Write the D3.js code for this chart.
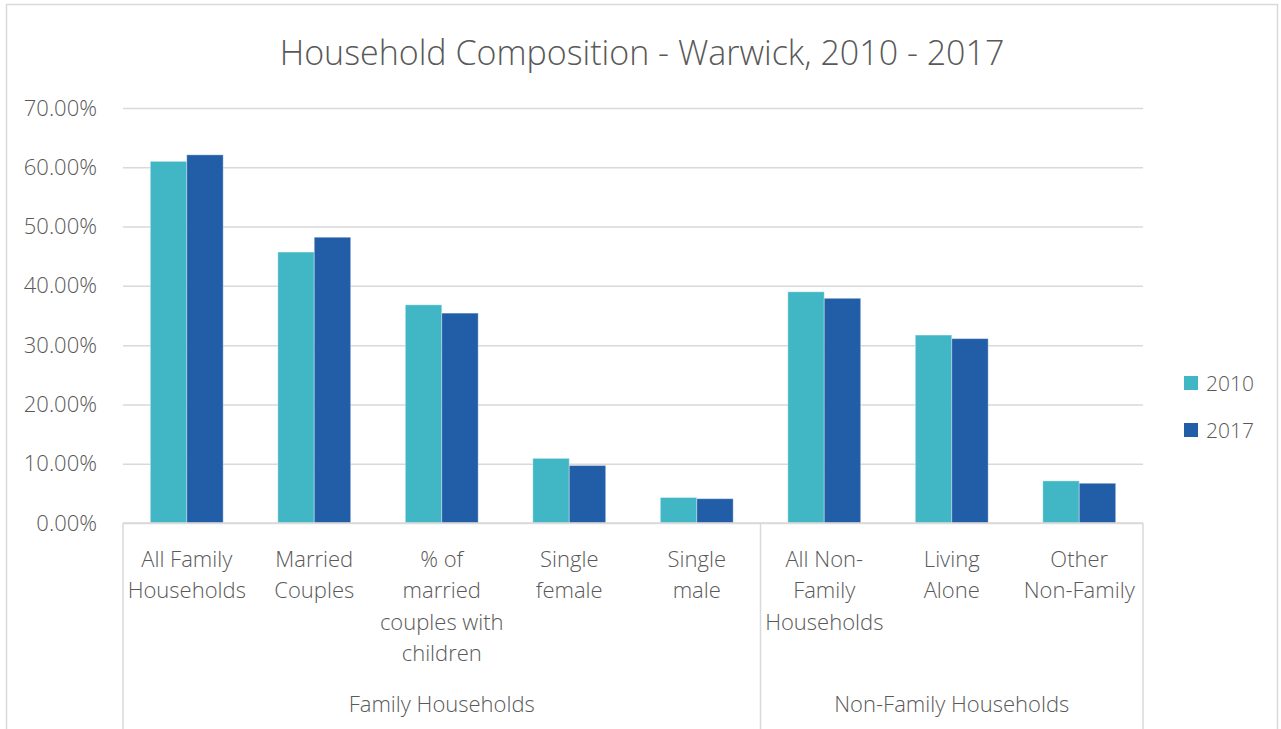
<!DOCTYPE html>
<html>
<head>
<meta charset="utf-8">
<script src="https://cdn.jsdelivr.net/npm/d3@7"></script>
<style>
  body { margin: 0; background: #fff; }
  svg { font-family: "Open Sans", "Segoe UI", sans-serif; font-weight: 300; }
  .tick text { fill: #595959; }
</style>
</head>
<body>
<svg></svg>
<script>
// chart data
let categories = ['All Family Households', 'Married Couples', '% of married couples with children',
  'Single female', 'Single male', 'All Non-Family Households', 'Living Alone', 'Other Non-Family'];
let categoryLines = [
  ['All Family', 'Households'],
  ['Married', 'Couples'],
  ['% of', 'married', 'couples with', 'children'],
  ['Single', 'female'],
  ['Single', 'male'],
  ['All Non-', 'Family', 'Households'],
  ['Living', 'Alone'],
  ['Other', 'Non-Family']
];
let groups = ['Family Households', 'Non-Family Households'];
let groupSizes = [5, 3];
let years = ['2010', '2017'];
let values2010 = [0.610, 0.457, 0.368, 0.109, 0.043, 0.390, 0.317, 0.071];
let values2017 = [0.621, 0.482, 0.354, 0.097, 0.041, 0.379, 0.311, 0.067];
let yTicks = [0, 0.1, 0.2, 0.3, 0.4, 0.5, 0.6, 0.7];

let width = 1281;
let height = 729;
let colors = ['#41b6c4', '#225ea8'];
let textColor = '#595959';
let gridColor = '#d9d9d9';

let plotLeft = 123, plotRight = 1143, plotTop = 108, plotBottom = 523;

let svg = d3.select('svg')
  .attr('width', width)
  .attr('height', height);

// chart border
svg.append('rect')
  .attr('x', 6.5).attr('y', 4.5)
  .attr('width', 1271).attr('height', 740)
  .attr('fill', 'none')
  .attr('stroke', gridColor)
  .attr('stroke-width', 1.5);

let x = d3.scaleBand()
  .domain(categories)
  .range([plotLeft, plotRight])
  .paddingInner(1.5 / 3.5)
  .paddingOuter(0.75 / 3.5);

let xInner = d3.scaleBand()
  .domain(years)
  .range([0, x.bandwidth()]);

let y = d3.scaleLinear()
  .domain([0, 0.7])
  .range([plotBottom, plotTop]);

// gridlines + y labels
let yAxis = svg.append('g')
  .attr('transform', `translate(${plotLeft},0)`)
  .call(d3.axisLeft(y).tickValues(yTicks).tickFormat(d3.format('.2%')).tickSize(-(plotRight - plotLeft)).tickPadding(26));
yAxis.select('.domain').remove();
yAxis.selectAll('.tick line').attr('stroke', gridColor).attr('stroke-width', 1.5);
yAxis.selectAll('.tick text').style('font-size', '22px').attr('fill', textColor)
  .style('font-family', '"Open Sans", sans-serif').style('font-weight', 300);

// bars
let rows = categories.map((c, i) => ({ cat: c, vals: [values2010[i], values2017[i]] }));

let groupG = svg.selectAll('.cat')
  .data(rows)
  .enter()
  .append('g')
  .attr('class', 'cat')
  .attr('transform', d => `translate(${x(d.cat)},0)`);

groupG.selectAll('rect')
  .data(d => d.vals.map((v, j) => ({ year: years[j], v: v, j: j })))
  .enter()
  .append('rect')
  .attr('x', d => xInner(d.year))
  .attr('y', d => y(d.v))
  .attr('width', xInner.bandwidth())
  .attr('height', d => y(0) - y(d.v))
  .attr('fill', d => colors[d.j])
  .attr('stroke', 'rgba(255,255,255,0.35)')
  .attr('stroke-width', 1);

// category axis line
svg.append('line')
  .attr('x1', plotLeft).attr('x2', plotRight)
  .attr('y1', plotBottom).attr('y2', plotBottom)
  .attr('stroke', gridColor).attr('stroke-width', 1.5);

// group separators
let boundaries = [0];
groupSizes.forEach((n, i) => boundaries.push(boundaries[i] + n));
let bx = b => plotLeft + b * (plotRight - plotLeft) / categories.length;
boundaries.forEach(b => {
  svg.append('line')
    .attr('x1', bx(b)).attr('x2', bx(b))
    .attr('y1', plotBottom).attr('y2', height)
    .attr('stroke', gridColor).attr('stroke-width', 1.5);
});

// category labels
rows.forEach((d, i) => {
  let cx = x(d.cat) + x.bandwidth() / 2;
  let t = svg.append('text')
    .attr('text-anchor', 'middle')
    .attr('fill', textColor)
    .style('font-size', '22px');
  categoryLines[i].forEach((line, k) => {
    t.append('tspan')
      .attr('x', cx)
      .attr('y', 567 + k * 31.3)
      .text(line);
  });
});

// group labels
groups.forEach((g, i) => {
  svg.append('text')
    .attr('x', (bx(boundaries[i]) + bx(boundaries[i + 1])) / 2)
    .attr('y', 712)
    .attr('text-anchor', 'middle')
    .attr('fill', textColor)
    .style('font-size', '22px')
    .text(g);
});

// legend
let legend = svg.selectAll('.legend')
  .data(years)
  .enter()
  .append('g')
  .attr('class', 'legend')
  .attr('transform', (d, i) => `translate(1184,${376 + i * 47})`);
legend.append('rect')
  .attr('width', 14).attr('height', 14)
  .attr('fill', (d, i) => colors[i]);
legend.append('text')
  .attr('x', 22).attr('y', 15)
  .attr('fill', textColor)
  .style('font-size', '21px')
  .text(d => d);

// title
svg.append('text')
  .attr('x', 642)
  .attr('y', 65)
  .attr('text-anchor', 'middle')
  .attr('fill', textColor)
  .style('font-size', '34px')
  .text('Household Composition - Warwick, 2010 - 2017');
</script>
</body>
</html>
